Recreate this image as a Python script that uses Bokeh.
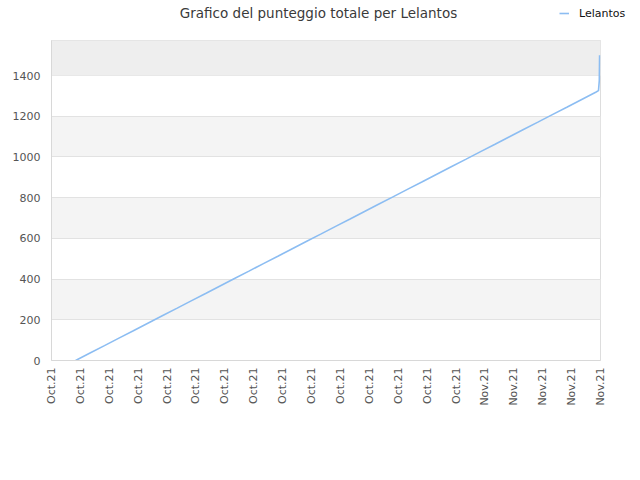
import math
import pandas as pd
from bokeh.plotting import figure
from bokeh.layouts import column
from bokeh.models import Range1d, FixedTicker, DatetimeTickFormatter, BoxAnnotation, Legend, LegendItem, Label
from bokeh.embed import file_html
from bokeh.resources import INLINE

# ---- data ----
times = [
    "2021-10-03 16:00", "2021-10-04 16:00", "2021-10-05 16:00", "2021-10-06 16:00",
    "2021-10-07 16:00", "2021-10-08 16:00", "2021-10-09 16:00", "2021-10-10 16:00",
    "2021-10-11 16:00", "2021-10-12 16:00", "2021-10-13 16:00", "2021-10-14 16:00",
    "2021-10-15 16:00", "2021-10-16 16:00", "2021-10-17 16:00", "2021-10-18 16:00",
    "2021-10-19 16:00", "2021-10-20 16:00", "2021-10-21 16:00", "2021-10-22 16:00",
    "2021-10-23 16:00", "2021-10-24 16:00", "2021-10-25 16:00", "2021-10-26 16:00",
    "2021-10-27 16:00", "2021-10-28 16:00", "2021-10-29 16:00", "2021-10-30 16:00",
    "2021-10-31 16:00", "2021-11-01 16:00", "2021-11-02 16:00", "2021-11-03 16:00",
    "2021-11-04 16:00", "2021-11-05 16:00", "2021-11-06 16:00", "2021-11-07 16:00",
    "2021-11-08 16:00", "2021-11-08 20:40", "2021-11-08 22:00", "2021-11-08 22:30",
]
scores = [
    0, 37, 73, 110, 146, 183, 220, 256,
    293, 329, 366, 403, 439, 476, 512, 549,
    586, 622, 659, 695, 732, 769, 805, 842,
    878, 915, 952, 988, 1025, 1061, 1098, 1135,
    1171, 1208, 1244, 1281, 1318, 1326, 1375, 1500,
]
tick_dates = [
    "2021-10-02", "2021-10-04", "2021-10-06", "2021-10-08", "2021-10-10",
    "2021-10-12", "2021-10-14", "2021-10-16", "2021-10-18", "2021-10-20",
    "2021-10-22", "2021-10-24", "2021-10-26", "2021-10-28", "2021-10-30",
    "2021-11-01", "2021-11-03", "2021-11-05", "2021-11-07", "2021-11-09",
]
y_ticks = [0, 200, 400, 600, 800, 1000, 1200, 1400]
series_name = "Lelantos"
title_text = "Grafico del punteggio totale per Lelantos"
line_color = "#8cbdf2"

x = pd.to_datetime(times)
ticks_ms = [pd.Timestamp(t).value / 1e6 for t in tick_dates]

# ---- header strip: title + legend ----
head = figure(width=640, height=40, output_backend="svg", toolbar_location=None,
              x_range=Range1d(0, 1), y_range=Range1d(0, 1),
              x_axis_location=None, y_axis_location=None,
              min_border=0, min_border_left=0, min_border_right=0,
              min_border_top=0, min_border_bottom=0)
head.frame_align = False
head.grid.visible = False
head.outline_line_color = None
head.background_fill_color = "white"
head.border_fill_color = "white"
head.add_layout(Label(x=318, y=28, x_units="screen", y_units="screen", text=title_text,
                      text_align="center", text_baseline="middle",
                      text_font="DejaVu Sans", text_font_size="13.5px", text_color="#3a3a3a"))
hr = head.line(x, scores, line_color=line_color, line_width=1.6, visible=False)
legend = Legend(items=[LegendItem(label=series_name, renderers=[hr])], location=(559, 20))
legend.background_fill_alpha = 0
legend.border_line_color = None
legend.padding = 0
legend.margin = 0
legend.glyph_width = 10
legend.glyph_height = 14
legend.label_standoff = 10
legend.label_text_font = "DejaVu Sans"
legend.label_text_font_size = "11px"
legend.label_text_color = "#111111"
legend.label_height = 14
legend.click_policy = "none"
head.add_layout(legend)

# ---- main chart ----
p = figure(
    width=640, height=440, x_axis_type="datetime",
    x_range=Range1d(ticks_ms[0], ticks_ms[-1]),
    y_range=Range1d(0, 1572),
    output_backend="svg", toolbar_location=None,
    min_border_left=51, min_border_right=40, min_border_top=0, min_border_bottom=120,
)
p.frame_align = False
p.background_fill_color = "white"
p.border_fill_color = "white"
p.outline_line_color = "#dddddd"

p.xgrid.grid_line_color = None
p.ygrid.grid_line_color = "#e2e2e2"
p.ygrid.band_fill_color = "#f4f4f4"
p.ygrid.band_fill_alpha = 1.0
p.ygrid.ticker = FixedTicker(ticks=y_ticks)
p.add_layout(BoxAnnotation(bottom=1400, fill_color="#eeeeee", fill_alpha=1.0, line_color=None, level="underlay"))

p.yaxis.ticker = FixedTicker(ticks=y_ticks)
p.xaxis.ticker = FixedTicker(ticks=ticks_ms)
p.xaxis.formatter = DatetimeTickFormatter(days="%b.%y", months="%b.%y", hours="%b.%y")
p.xaxis.major_label_orientation = math.pi / 2
for ax in (p.xaxis, p.yaxis):
    ax.axis_line_color = "#d8d8d8"
    ax.major_tick_line_color = None
    ax.minor_tick_line_color = None
    ax.major_tick_out = 0
    ax.major_tick_in = 0
    ax.major_label_text_font = "DejaVu Sans"
    ax.major_label_text_font_size = "11px"
    ax.major_label_text_color = "#555555"
p.xaxis.major_label_standoff = 7
p.yaxis.major_label_standoff = 11

p.line(x, scores, line_color=line_color, line_width=1.6)

layout = column(head, p, spacing=0)
open("out.html", "w").write(file_html(layout, INLINE))
